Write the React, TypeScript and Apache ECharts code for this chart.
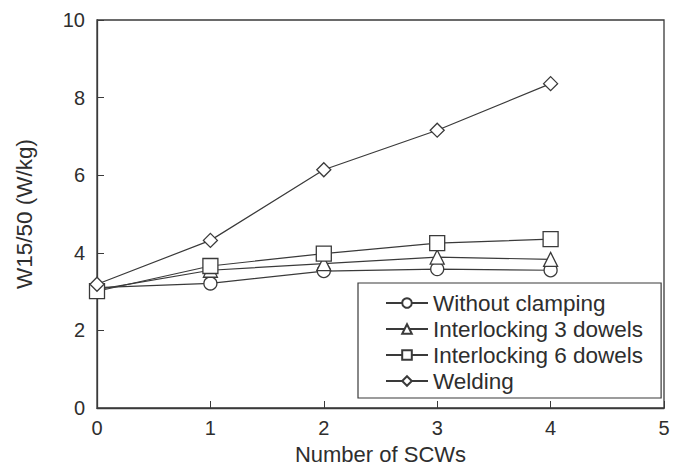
import React, { useEffect, useRef } from "react";
import * as echarts from "echarts";

const xValues = [0, 1, 2, 3, 4];
const withoutClamping = [3.1, 3.21, 3.53, 3.58, 3.55];
const interlocking3 = [3.05, 3.55, 3.72, 3.89, 3.83];
const interlocking6 = [3.01, 3.66, 3.98, 4.25, 4.35];
const welding = [3.19, 4.32, 6.14, 7.16, 8.36];
const seriesNames = ["Without clamping", "Interlocking 3 dowels", "Interlocking 6 dowels", "Welding"];
const seriesSymbols = ["circle", "triangle", "rect", "diamond"];

const FONT = "'Liberation Sans', Arial, sans-serif";
const INK = "#3a3a3a";
const TXT = "#2e2e2e";

export default function App() {
  const ref = useRef<HTMLDivElement>(null);
  useEffect(() => {
    if (!ref.current) return;
    const chart = echarts.init(ref.current, null, { renderer: "svg" });
    const all = [withoutClamping, interlocking3, interlocking6, welding];
    const sizes = [13, 14, 15, 14];
    chart.setOption({
      animation: false,
      backgroundColor: "#ffffff",
      grid: { left: 97, right: 13, top: 20, bottom: 62, show: true, borderColor: INK, borderWidth: 1.3, backgroundColor: "transparent" },
      legend: {
        orient: "vertical",
        left: 358,
        top: 283,
        width: 304,
        padding: [8, 18, 5, 27],
        itemGap: 2,
        itemWidth: 42,
        itemHeight: 12,
        borderColor: INK,
        borderWidth: 1.2,
        backgroundColor: "#ffffff",
        data: seriesNames,
        textStyle: { fontFamily: FONT, fontSize: 22.5, color: TXT, lineHeight: 24 },
      },
      xAxis: {
        type: "value",
        min: 0,
        max: 5,
        interval: 1,
        name: "Number of SCWs",
        nameLocation: "middle",
        nameGap: 35,
        nameTextStyle: { fontFamily: FONT, fontSize: 22, color: TXT },
        axisLine: { show: true, lineStyle: { color: INK, width: 1.3 } },
        axisTick: { show: true, inside: true, length: 7, lineStyle: { color: INK } },
        axisLabel: { fontFamily: FONT, fontSize: 20, color: TXT, margin: 10 },
        splitLine: { show: false },
      },
      yAxis: {
        type: "value",
        min: 0,
        max: 10,
        interval: 2,
        name: "W15/50 (W/kg)",
        nameLocation: "middle",
        nameGap: 61,
        nameTextStyle: { fontFamily: FONT, fontSize: 22.5, color: TXT },
        axisLine: { show: true, lineStyle: { color: INK, width: 1.3 } },
        axisTick: { show: true, inside: true, length: 7, lineStyle: { color: INK } },
        axisLabel: { fontFamily: FONT, fontSize: 20, color: TXT, margin: 12 },
        splitLine: { show: false },
      },
      series: all.map((vals, i) => ({
        name: seriesNames[i],
        type: "line",
        data: xValues.map((x, j) => [x, vals[j]]),
        symbol: seriesSymbols[i],
        symbolSize: sizes[i],
        showAllSymbol: true,
        lineStyle: { color: INK, width: 1.2 },
        itemStyle: { color: "#ffffff", borderColor: INK, borderWidth: 1.3 },
        z: 2 + i,
      })),
    });
    return () => chart.dispose();
  }, []);
  return <div ref={ref} style={{ position: "fixed", left: 0, top: 0, width: 677, height: 470 }} />;
}
